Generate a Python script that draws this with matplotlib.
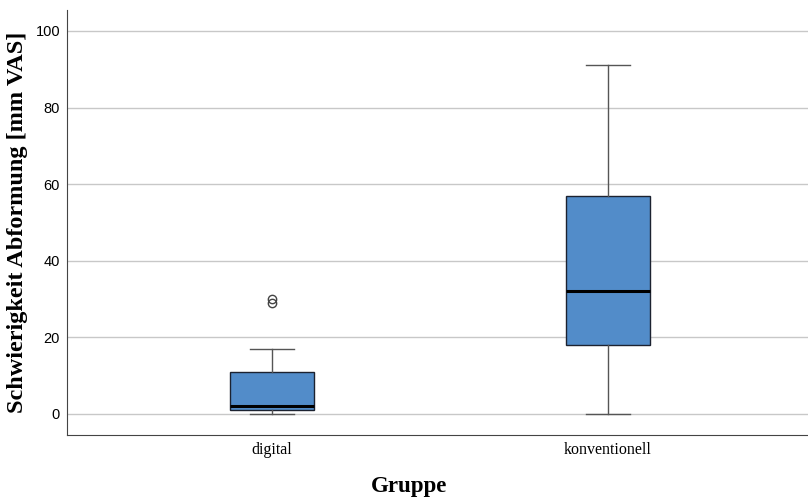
import matplotlib.pyplot as plt

groups = ['digital', 'konventionell']
whisker_low = [0, 0]
q1 = [1, 18]
medians = [2, 32]
q3 = [11, 57]
whisker_high = [17, 91]
outliers = [[30, 29], []]
yticks = [0, 20, 40, 60, 80, 100]

stats = []
for i, g in enumerate(groups):
    stats.append({'label': g, 'whislo': whisker_low[i], 'q1': q1[i], 'med': medians[i],
                  'q3': q3[i], 'whishi': whisker_high[i], 'fliers': outliers[i]})

fig = plt.figure(figsize=(8.08, 4.97), dpi=100)
ax = fig.add_axes([0.083, 0.125, 0.917, 0.855])

ax.bxp(stats, positions=[1, 2], widths=0.25, patch_artist=True,
       boxprops=dict(facecolor='#528cc9', edgecolor='#1c2230', linewidth=1),
       medianprops=dict(color='black', linewidth=2.2),
       whiskerprops=dict(color='#555555', linewidth=1),
       capprops=dict(color='#555555', linewidth=1),
       capwidths=0.13,
       flierprops=dict(marker='o', markerfacecolor='none', markeredgecolor='#444444',
                       markersize=6, markeredgewidth=1))

ax.set_xlim(0.39, 2.595)
ax.set_ylim(-5.5, 105.5)
ax.set_yticks(yticks)
ax.yaxis.grid(True, color='#c8c8c8', linewidth=1)
ax.set_axisbelow(True)
ax.tick_params(axis='both', length=0, pad=5)
for lab in ax.get_yticklabels():
    lab.set_fontfamily('Liberation Sans')
    lab.set_fontsize(10.5)
ax.set_xticks([1, 2])
ax.set_xticklabels(groups, fontfamily='Liberation Serif', fontsize=11.5)

for s in ['top', 'right']:
    ax.spines[s].set_visible(False)
for s in ['left', 'bottom']:
    ax.spines[s].set_color('#444444')

ax.set_ylabel('Schwierigkeit Abformung [mm VAS]', fontfamily='Liberation Serif',
              fontweight='bold', fontsize=17.5)
ax.yaxis.set_label_coords(-0.053, 0.5)
ax.set_xlabel('Gruppe', fontfamily='Liberation Serif', fontweight='bold',
              fontsize=16.5, labelpad=13)
ax.xaxis.label.set_x(0.4615)

fig.savefig('out.png', dpi=100)
